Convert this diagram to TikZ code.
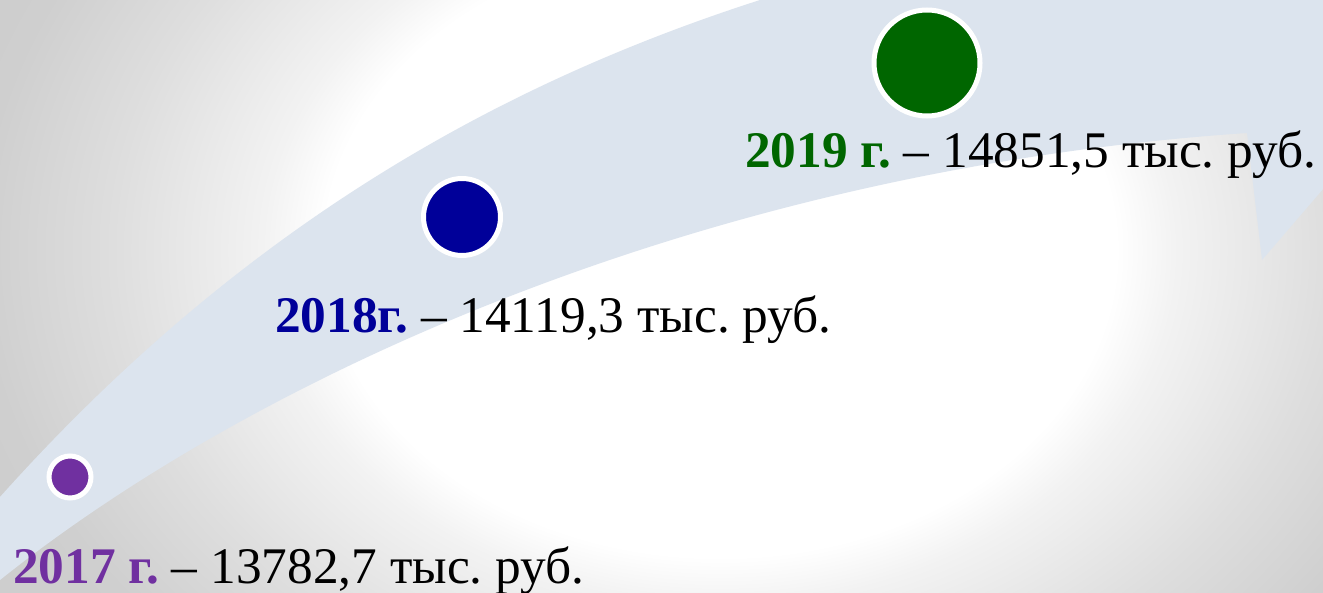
\documentclass[tikz,border=0pt]{standalone}
\usepackage{fontspec}
\setmainfont{Liberation Serif}
\usetikzlibrary{positioning}
\definecolor{bandblue}{HTML}{DCE4EE}
\definecolor{violet17}{HTML}{7030A0}
\definecolor{navy18}{HTML}{000099}
\definecolor{green19}{HTML}{006600}
\pgfdeclareradialshading{slidebg}{\pgfpoint{0bp}{0bp}}{color(0bp)=(white); color(13bp)=(white); color(15bp)=(black!5); color(20bp)=(black!13); color(24.5bp)=(black!19); color(50bp)=(black!20)}
\frenchspacing
\begin{document}
\begin{tikzpicture}[x=0.75pt,y=-0.75pt,dot/.style={circle,draw=white,line width=3.75pt,inner sep=0pt},yr/.style={anchor=base west,inner sep=0pt,font=\fontsize{38.5}{44}\selectfont}]
\useasboundingbox (0,0) rectangle (1323,592);
\clip (0,0) rectangle (1323,592);
\shade[shading=slidebg] (-41,-340) rectangle (1481,840);
% curved arrow band
\fill[bandblue] (0,580) .. controls (250,380) and (700,170) .. (1247,133) -- (1262,260) -- (1520,-40) -- (1520,-220) -- (1040,-90) -- (760,0) .. controls (480,90) and (230,240) .. (0,497) -- (-60,564) -- (-60,628) -- cycle;
% points
\node[dot,fill=violet17,minimum size=31.5pt] (d17) at (70,477) {};
\node[dot,fill=navy18,minimum size=57.75pt] (d18) at (462,217) {};
\node[dot,fill=green19,minimum size=79.5pt] (d19) at (927,63) {};
% labels
\node[yr] (t17) at (13,583) {{\bfseries\color{violet17}2017 г.} – 13782,7 тыс. руб.};
\node[yr] (t18) at (275,332) {{\bfseries\color{navy18}2018г.} – 14119,3 тыс. руб.};
\node[yr] (t19) at (745,167) {{\bfseries\color{green19}2019 г.} – 14851,5 тыс. руб.};
\end{tikzpicture}
\end{document}
